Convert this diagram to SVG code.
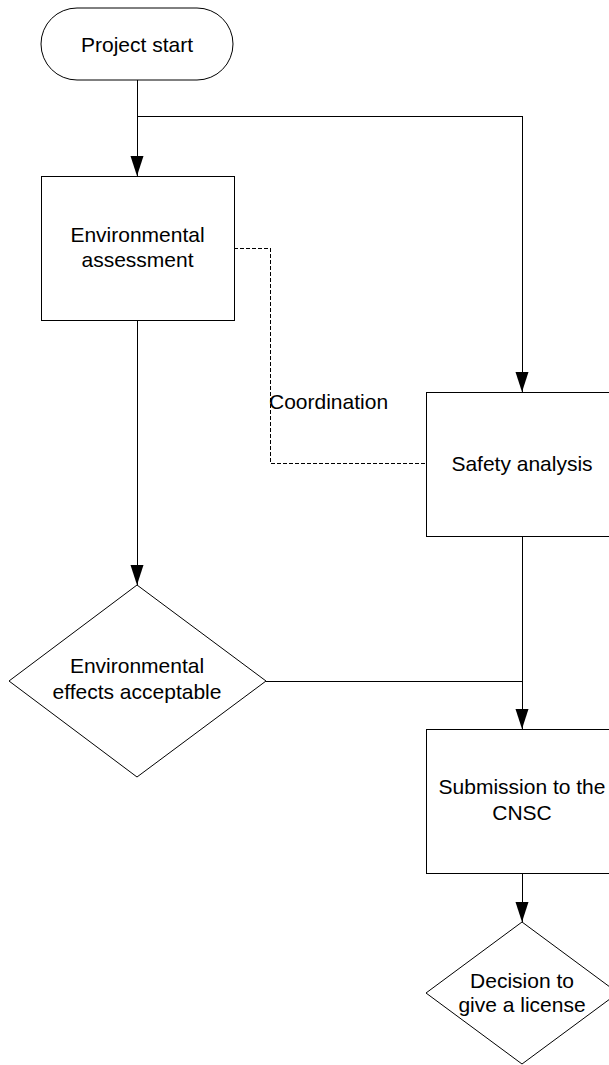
<svg xmlns="http://www.w3.org/2000/svg" width="609" height="1065" viewBox="0 0 609 1065">
<style>
.shape{fill:#fff;stroke:#000;stroke-width:1}
.box{shape-rendering:crispEdges}
.conn{fill:none;stroke:#000;stroke-width:1;shape-rendering:crispEdges}
.dash{fill:none;stroke:#000;stroke-width:1;stroke-dasharray:4,2;shape-rendering:crispEdges}
text{font-family:"Liberation Sans",Arial,sans-serif;font-size:21px;fill:#000}
.c{text-anchor:middle}
</style>
<defs>
<marker id="arr" markerWidth="20" markerHeight="14" refX="20" refY="7" orient="auto" markerUnits="userSpaceOnUse">
<path d="M0,0.5 L20,7 L0,13.5 Z" fill="#000"/>
</marker>
</defs>
<rect width="609" height="1065" fill="#fff"/>
<g id="connectors">
<path class="conn" d="M137,80 V176" marker-end="url(#arr)"/>
<path class="conn" d="M137,116 H522 V392" marker-end="url(#arr)"/>
<path class="dash" d="M234,248 H270 V463 H426"/>
<path class="conn" d="M137,320 V585" marker-end="url(#arr)"/>
<path class="conn" d="M522,536 V729" marker-end="url(#arr)"/>
<path class="conn" d="M266,681 H522"/>
<path class="conn" d="M522,873 V922" marker-end="url(#arr)"/>
<text x="269" y="409">Coordination</text>
</g>
<g id="start">
<rect class="shape" x="41" y="8" width="192" height="72" rx="36" ry="36"/>
<text class="c" x="137" y="52">Project start</text>
</g>
<g id="env-assessment">
<rect class="shape box" x="41" y="176" width="193" height="144"/>
<text class="c" x="137.5" y="242">Environmental</text>
<text class="c" x="137.5" y="267">assessment</text>
</g>
<g id="safety-analysis">
<rect class="shape box" x="426" y="392" width="192" height="144"/>
<text class="c" x="522" y="471">Safety analysis</text>
</g>
<g id="env-effects">
<polygon class="shape" points="137,585 266,681 137,777 9,681"/>
<text class="c" x="137" y="673">Environmental</text>
<text class="c" x="137" y="699">effects acceptable</text>
</g>
<g id="submission">
<rect class="shape box" x="426" y="729" width="192" height="144"/>
<text class="c" x="522" y="794">Submission to the</text>
<text class="c" x="522" y="820">CNSC</text>
</g>
<g id="decision">
<polygon class="shape" points="522,922 618,993 522,1064 426,993"/>
<text class="c" x="522" y="988">Decision to</text>
<text class="c" x="522" y="1012">give a license</text>
</g>
</svg>
